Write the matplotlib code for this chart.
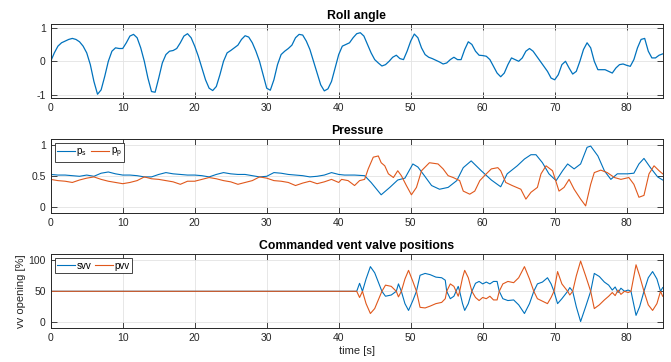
import numpy as np
import matplotlib
matplotlib.use("Agg")
import matplotlib.pyplot as plt

## ------------------------------------------------------ DATA ------------------------------------------------------
#region

# roll angle, sampled every 0.5 s from 0 to 85 s
roll_t = np.arange(0, 85.01, 0.5)
roll = [0.0, 0.25, 0.45, 0.55, 0.6, 0.65, 0.68, 0.65, 0.58, 0.45,
        0.25, -0.1, -0.6, -0.98, -0.85, -0.45, 0.0, 0.3, 0.4, 0.38,
        0.38, 0.55, 0.75, 0.8, 0.7, 0.4, 0.0, -0.5, -0.9, -0.92,
        -0.5, -0.05, 0.2, 0.3, 0.32, 0.38, 0.55, 0.75, 0.82, 0.7,
        0.45, 0.15, -0.2, -0.55, -0.8, -0.87, -0.75, -0.4, 0.0, 0.25,
        0.32, 0.4, 0.48, 0.65, 0.76, 0.72, 0.55, 0.3, 0.0, -0.4,
        -0.8, -0.86, -0.55, -0.1, 0.2, 0.3, 0.38, 0.48, 0.7, 0.8,
        0.78, 0.6, 0.35, 0.0, -0.35, -0.7, -0.88, -0.82, -0.6, -0.2,
        0.2, 0.45, 0.5, 0.55, 0.7, 0.82, 0.85, 0.75, 0.5, 0.25,
        0.05, -0.05, -0.14, -0.1, 0.0, 0.12, 0.18, 0.08, 0.05, 0.3,
        0.6, 0.81, 0.7, 0.4, 0.2, 0.12, 0.08, 0.03, -0.02, -0.08,
        -0.05, 0.05, 0.12, 0.05, 0.05, 0.35, 0.58, 0.5, 0.3, 0.18,
        0.17, 0.15, 0.05, -0.15, -0.35, -0.46, -0.35, -0.1, 0.1, 0.05,
        0.0, 0.1, 0.3, 0.38, 0.3, 0.15, 0.0, -0.15, -0.3, -0.5,
        -0.55, -0.4, -0.1, 0.0, -0.2, -0.38, -0.3, 0.0, 0.35, 0.55,
        0.4, 0.0, -0.25, -0.25, -0.25, -0.3, -0.35, -0.2, -0.1, -0.08,
        -0.12, -0.15, 0.05, 0.4, 0.65, 0.68, 0.3, 0.1, 0.1, 0.18,
        0.22]

# starboard pressure p_s
ps_t = list(range(40)) + [
    40.0, 40.8, 42.2, 43.6, 44.5, 45.9, 47.1, 48.2, 49.2, 50.3,
    51.0, 51.9, 52.9, 54.0, 55.2, 56.4, 57.3, 58.4, 59.8, 61.2,
    62.5, 63.4, 64.8, 65.8, 66.7, 67.4, 68.3, 69.2, 70.2, 71.1,
    71.8, 72.7, 73.6, 74.5, 75.0, 76.0, 76.9, 77.8, 78.7, 80.1,
    81.0, 81.7, 82.4, 83.3, 84.3, 85.0]
p_s = [0.53, 0.52, 0.52, 0.51, 0.50, 0.52, 0.50, 0.55, 0.57, 0.54,
       0.52, 0.52, 0.51, 0.49, 0.49, 0.53, 0.56, 0.54, 0.53, 0.52,
       0.52, 0.51, 0.49, 0.53, 0.56, 0.54, 0.53, 0.53, 0.51, 0.49,
       0.50, 0.56, 0.55, 0.53, 0.52, 0.51, 0.49, 0.50, 0.52, 0.56,
       0.53, 0.52, 0.52, 0.51, 0.40, 0.20, 0.32, 0.44, 0.47, 0.70,
       0.65, 0.51, 0.35, 0.29, 0.32, 0.43, 0.64, 0.75, 0.59, 0.44,
       0.33, 0.54, 0.67, 0.78, 0.85, 0.85, 0.72, 0.54, 0.43, 0.59,
       0.70, 0.62, 0.70, 0.97, 0.99, 0.83, 0.59, 0.45, 0.54, 0.54,
       0.55, 0.70, 0.79, 0.64, 0.49, 0.44]

# port pressure p_p
pp_t = list(range(40)) + [
    40.0, 40.4, 41.3, 42.2, 42.9, 43.6, 44.1, 44.8, 45.5, 45.9, 46.4,
    46.9, 47.6, 48.2, 48.7, 49.4, 50.1, 50.8, 51.5, 52.6, 53.8,
    54.5, 55.2, 55.9, 56.8, 57.3, 58.2, 58.9, 59.6, 60.5, 61.2,
    62.1, 62.5, 63.2, 64.1, 65.3, 66.0, 66.7, 67.6, 68.1, 68.8,
    69.7, 70.6, 71.3, 72.0, 72.7, 73.6, 74.3, 75.0, 75.5, 76.4,
    77.3, 78.3, 79.2, 80.3, 81.0, 81.7, 82.4, 83.1, 83.8, 84.5, 85.0]
p_p = [0.45, 0.43, 0.42, 0.40, 0.44, 0.47, 0.49, 0.45, 0.42, 0.40,
       0.38, 0.40, 0.43, 0.49, 0.46, 0.45, 0.43, 0.41, 0.37, 0.42,
       0.42, 0.45, 0.48, 0.46, 0.43, 0.41, 0.37, 0.40, 0.43, 0.49,
       0.47, 0.43, 0.42, 0.40, 0.35, 0.39, 0.42, 0.38, 0.41, 0.45,
       0.40, 0.45, 0.43, 0.35, 0.43, 0.45, 0.62, 0.81, 0.83, 0.72, 0.67,
       0.54, 0.48, 0.59, 0.51, 0.35, 0.20, 0.32, 0.59, 0.72, 0.70,
       0.62, 0.51, 0.48, 0.43, 0.26, 0.21, 0.26, 0.43, 0.54, 0.62,
       0.64, 0.59, 0.40, 0.35, 0.29, 0.13, 0.24, 0.32, 0.54, 0.67,
       0.59, 0.26, 0.32, 0.45, 0.29, 0.13, 0.02, 0.37, 0.56, 0.60,
       0.56, 0.48, 0.45, 0.48, 0.37, 0.16, 0.19, 0.54, 0.67, 0.59, 0.54]

# commanded vent valve positions [%]
vv_t = [0, 42.5, 42.9, 43.3, 43.8, 44.4, 45.0, 45.5, 46.0, 46.5,
        47.3, 48.0, 48.3, 48.7, 49.2, 49.7, 50.3, 50.8, 51.3, 52.0,
        52.7, 53.5, 54.3, 54.8, 55.0, 55.5, 56.0, 56.3, 56.6, 56.8,
        57.2, 57.5, 58.0, 58.5, 59.0, 59.5, 60.0, 60.5, 61.0, 61.5,
        62.0, 62.3, 62.8, 63.5, 64.3, 65.0, 65.8, 66.5, 67.1, 67.6,
        68.3, 69.0, 69.5, 69.9, 70.4, 71.0, 71.8, 72.1, 72.5, 73.0,
        73.6, 74.3, 75.0, 75.5, 76.2, 76.9, 77.5, 78.0, 78.4, 78.8,
        79.2, 79.7, 80.2, 80.6, 81.3, 81.8, 82.4, 83.0, 83.6, 84.2,
        84.7, 85.0]
svv = [50, 50, 63, 50, 70, 90, 80, 65, 50, 42,
       44, 50, 62, 50, 30, 19, 35, 50, 76, 79,
       77, 73, 72, 68, 50, 38, 42, 50, 58, 50,
       30, 19, 30, 50, 63, 66, 62, 65, 62, 66,
       66, 50, 38, 35, 36, 28, 14, 30, 50, 62,
       65, 72, 62, 50, 30, 38, 50, 56, 50, 25,
       1, 25, 50, 79, 74, 65, 60, 52, 57, 48,
       55, 50, 52, 50, 11, 25, 50, 72, 82, 70,
       50, 56]
pvv = [50, 50, 40, 50, 30, 14, 22, 36, 50, 60,
       58, 50, 41, 50, 70, 84, 66, 50, 24, 23,
       26, 30, 32, 38, 50, 62, 58, 50, 42, 50,
       72, 84, 72, 50, 40, 35, 40, 38, 42, 36,
       36, 50, 62, 66, 64, 72, 90, 70, 50, 38,
       34, 30, 40, 50, 82, 62, 50, 44, 50, 75,
       99, 75, 50, 22, 28, 36, 42, 48, 43, 52,
       45, 50, 48, 50, 93, 75, 50, 28, 19, 30,
       50, 42]

#endregion

## ----------------------------------------------------- STYLE ------------------------------------------------------
plt.rcParams["font.family"] = ["Liberation Sans", "DejaVu Sans"]
plt.rcParams["mathtext.fontset"] = "custom"
plt.rcParams["mathtext.rm"] = "Liberation Sans"
plt.rcParams["mathtext.default"] = "regular"
plt.rcParams["axes.unicode_minus"] = False

BLUE = "#0072BD"
ORANGE = "#E0581C"
DARK = "#262626"


def style_axes(ax, ylim, yticks, yticklabels, title):
    ax.set_xlim(0, 85)
    ax.set_ylim(*ylim)
    ax.set_xticks(range(0, 81, 10))
    ax.set_yticks(yticks)
    ax.set_yticklabels(yticklabels)
    ax.grid(True, color="#e3e3e3", lw=0.6)
    ax.set_axisbelow(True)
    ax.tick_params(direction="in", top=True, right=True, length=4, width=0.6,
                   color=DARK, labelcolor=DARK, labelsize=7.5, pad=3.5)
    for s in ax.spines.values():
        s.set_color(DARK)
        s.set_linewidth(0.7)
    ax.set_title(title, fontsize=8.8, fontweight="bold", pad=4)


fig = plt.figure(figsize=(6.71, 3.62), dpi=100)
L, W, H = 0.0756, 0.912, 0.2044

## --------------------------------------------------- ROLL ANGLE ---------------------------------------------------
ax1 = fig.add_axes([L, 0.7285, W, H])
ax1.plot(roll_t, roll, color=BLUE, lw=0.9)
style_axes(ax1, (-1.1, 1.1), [-1, 0, 1], ["-1", "0", "1"], "Roll angle")

## ---------------------------------------------------- PRESSURE ----------------------------------------------------
ax2 = fig.add_axes([L, 0.4108, W, H])
ax2.plot(ps_t, p_s, color=BLUE, lw=0.8, label="p$_s$")
ax2.plot(pp_t, p_p, color=ORANGE, lw=0.8, label="p$_p$")
style_axes(ax2, (-0.1, 1.1), [0, 0.5, 1], ["0", "0.5", "1"], "Pressure")

## ------------------------------------------------ VENT VALVES -----------------------------------------------------
ax3 = fig.add_axes([L, 0.0931, W, H])
ax3.plot(vv_t, svv, color=BLUE, lw=0.8, label="svv")
ax3.plot(vv_t, pvv, color=ORANGE, lw=0.8, label="pvv")
style_axes(ax3, (-10, 110), [0, 50, 100], ["0", "50", "100"], "Commanded vent valve positions")
ax3.set_xlabel("time [s]", fontsize=8, color=DARK, labelpad=2)
ax3.set_ylabel("vv opening [%]", fontsize=8, color=DARK, labelpad=2)

for ax in (ax2, ax3):
    leg = ax.legend(loc="upper left", ncol=2, fontsize=7, frameon=True, fancybox=False,
                    framealpha=1, edgecolor=DARK, handlelength=1.8, handletextpad=0.2,
                    columnspacing=0.4, borderpad=0.25, borderaxespad=0.4)
    leg.get_frame().set_linewidth(0.6)

fig.savefig("out.png", dpi=100)
